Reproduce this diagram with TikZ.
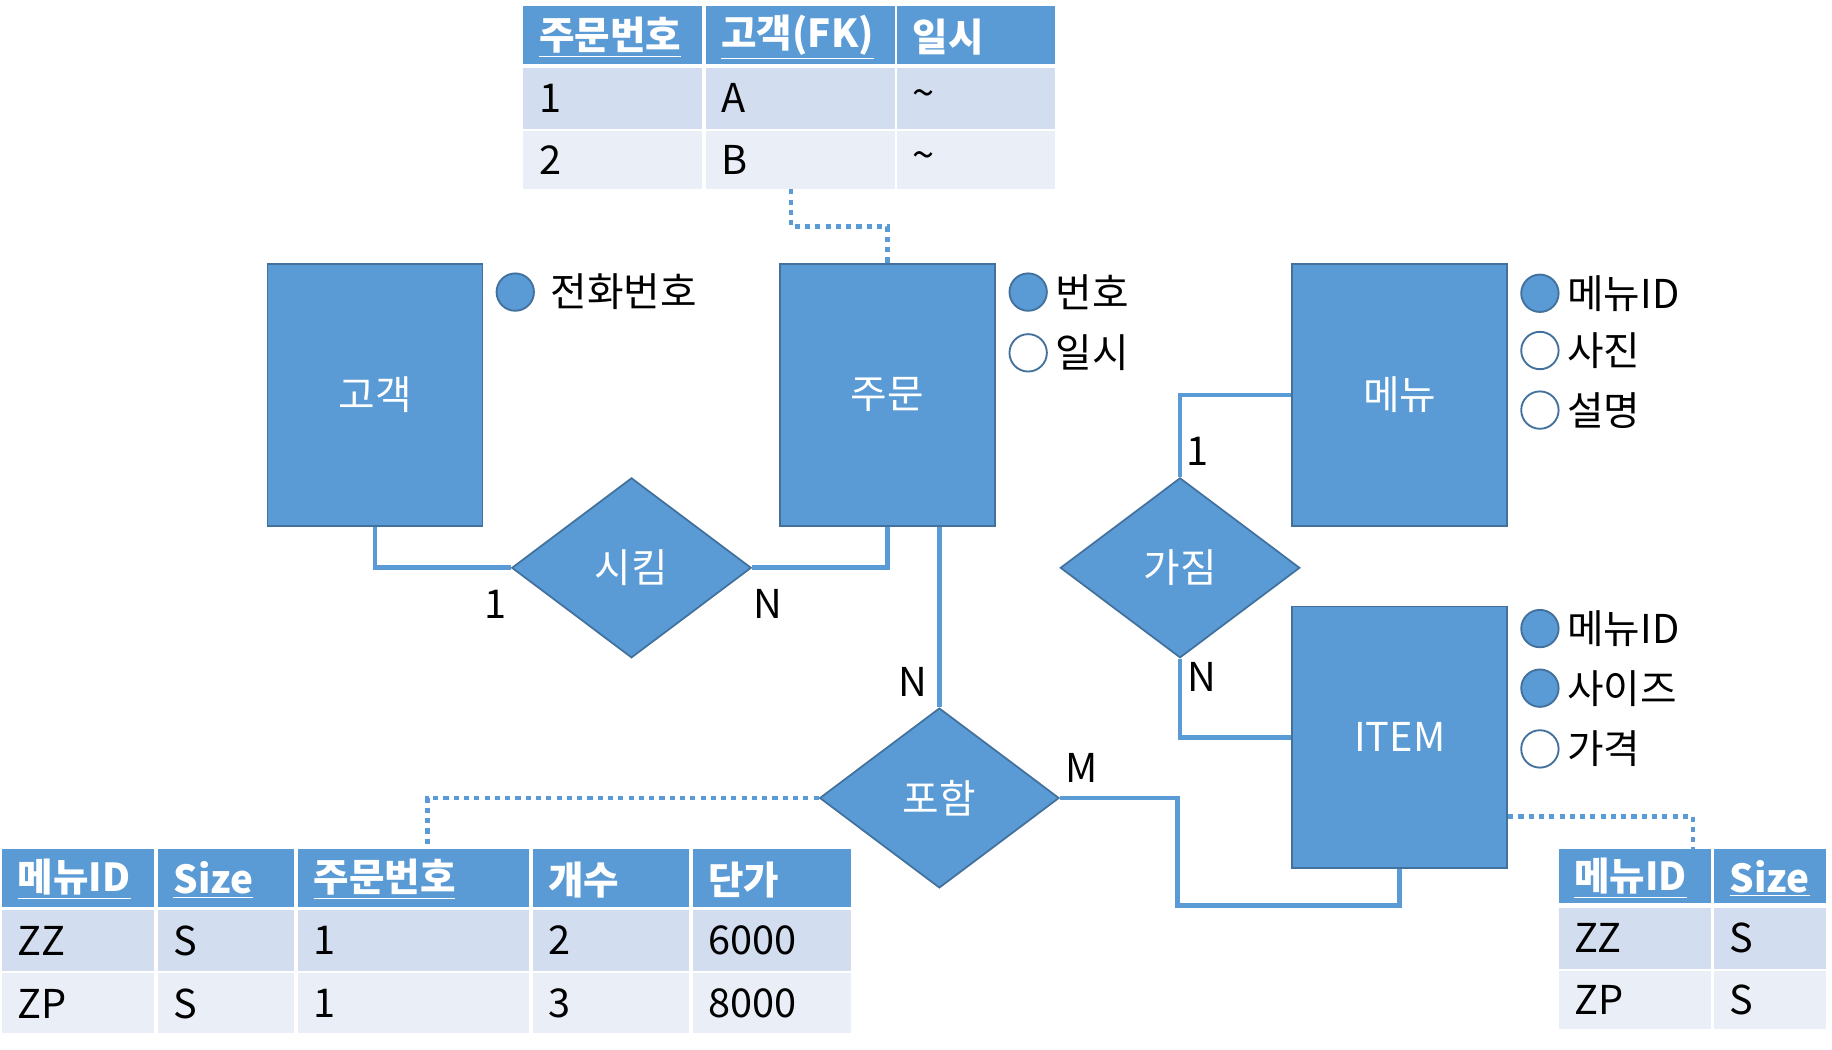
\documentclass[tikz,border=0pt]{standalone}
\usepackage{fontspec}
\setmainfont{Noto Sans CJK KR}
\usetikzlibrary{shapes.geometric,positioning}

\definecolor{erfill}{HTML}{5B9BD5}
\definecolor{erline}{HTML}{41719C}
\definecolor{rowA}{HTML}{D2DEEF}
\definecolor{rowB}{HTML}{EAEFF7}
\newcommand{\erfont}{\fontsize{17}{20}\selectfont}
\newcommand{\hdfont}{\fontsize{16.5}{20}\selectfont\bfseries}

\tikzset{
  entity/.style={draw=erline, fill=erfill, line width=0.75pt, minimum width=92pt, minimum height=112pt, inner sep=0pt, text=white, font=\erfont},
  relation/.style={diamond, aspect=1.33, draw=erline, fill=erfill, line width=0.75pt, minimum width=102.5pt, minimum height=77pt, inner sep=0pt, text=white, font=\erfont},
  conn/.style={draw=erfill, line width=2pt},
  fkline/.style={draw=erfill, line width=1.9pt, dash pattern=on 2.2pt off 2.2pt},
  keyattr/.style={circle, draw=erline, fill=erfill, line width=0.8pt, minimum size=16pt, inner sep=0pt},
  plainattr/.style={keyattr, fill=white},
  attrtxt/.style={anchor=west, inner sep=0pt, font=\erfont},
  card/.style={inner sep=0pt, font=\erfont},
  headtxt/.style={anchor=west, inner sep=0pt, text=white, font=\hdfont},
  celltxt/.style={anchor=west, inner sep=0pt, font=\erfont},
}

\begin{document}
\begin{tikzpicture}[x=0.5pt,y=-0.5pt]
\useasboundingbox (0,0) rectangle (1568,898);

% order table (top)
\foreach \a/\b in {448/601,604/766,768/903} {
  \fill[erfill] (\a,5) rectangle (\b,55);
  \fill[rowA] (\a,58) rectangle (\b,110);
  \fill[rowB] (\a,112) rectangle (\b,162);
}
\node[headtxt] (ordh1) at (461,32) {\underline{주문번호}};
\node[headtxt] (ordh2) at (617,32) {\underline{고객(FK)}};
\node[headtxt] (ordh3) at (781,32) {일시};
\node[celltxt] (ord11) at (461,84) {1};
\node[celltxt] (ord12) at (617,84) {A};
\node[celltxt] (ord13) at (781,84) {\textasciitilde};
\node[celltxt] (ord21) at (461,137) {2};
\node[celltxt] (ord22) at (617,137) {B};
\node[celltxt] (ord23) at (781,137) {\textasciitilde};
\coordinate (ordtab) at (677,162);

% order line table (bottom left)
\foreach \a/\b in {2/132,135/252,255/453,456/590,593/728} {
  \fill[erfill] (\a,727) rectangle (\b,776);
  \fill[rowA] (\a,779) rectangle (\b,831);
  \fill[rowB] (\a,833) rectangle (\b,884);
}
\node[headtxt] (lineh1) at (15,753) {\underline{메뉴ID}};
\node[headtxt] (lineh2) at (148,753) {\underline{Size}};
\node[headtxt] (lineh3) at (268,753) {\underline{주문번호}};
\node[headtxt] (lineh4) at (469,753) {개수};
\node[headtxt] (lineh5) at (606,753) {단가};
\node[celltxt] (line11) at (15,805) {ZZ};
\node[celltxt] (line12) at (148,805) {S};
\node[celltxt] (line13) at (268,805) {1};
\node[celltxt] (line14) at (469,805) {2};
\node[celltxt] (line15) at (606,805) {6000};
\node[celltxt] (line21) at (15,859) {ZP};
\node[celltxt] (line22) at (148,859) {S};
\node[celltxt] (line23) at (268,859) {1};
\node[celltxt] (line24) at (469,859) {3};
\node[celltxt] (line25) at (606,859) {8000};
\coordinate (linetab) at (366,727);

% size table (bottom right)
\foreach \a/\b in {1334/1464,1467/1563} {
  \fill[erfill] (\a,727) rectangle (\b,773);
  \fill[rowA] (\a,777) rectangle (\b,829);
  \fill[rowB] (\a,831) rectangle (\b,881);
}
\node[headtxt] (sizeh1) at (1347,752) {\underline{메뉴ID}};
\node[headtxt] (sizeh2) at (1480,752) {\underline{Size}};
\node[celltxt] (size11) at (1347,803) {ZZ};
\node[celltxt] (size12) at (1480,803) {S};
\node[celltxt] (size21) at (1347,856) {ZP};
\node[celltxt] (size22) at (1480,856) {S};
\coordinate (sizetab) at (1449,727);

% entities
\node[entity] (cust) at (321,338) {고객};
\node[entity] (order) at (759.5,338) {주문};
\node[entity] (menu) at (1198,338) {메뉴};
\node[entity] (item) at (1198,631) {ITEM};

% relations
\node[relation] (sikim) at (540.5,486) {시킴};
\node[relation] (gajim) at (1010,486) {가짐};
\node[relation] (poham) at (804,683) {포함};

% connectors
\draw[conn] (cust.south) |- (sikim.west);
\draw[conn] (sikim.east) -| (order.south);
\draw[conn] (poham.north) -- (poham.north |- order.south);
\coordinate (bend) at (1008,775);
\draw[conn] (poham.east) -| (bend) -| (item.south);
\draw[conn] (gajim.north) |- (menu.west);
\draw[conn] (gajim.south) |- (item.west);

% foreign keys
\draw[fkline] (ordtab) -- ++(0,32) -| (order.north);
\draw[fkline] (poham.west) -| (linetab);
\coordinate (itemfk) at ([yshift=22.5pt]item.south east);
\draw[fkline] (itemfk) -| (sizetab);

% cardinality
\node[card] (c1) at (424,517) {1};
\node[card] (c2) at (657,517) {N};
\node[card] (c3) at (781,584) {N};
\node[card] (c4) at (926,657) {M};
\node[card] (c5) at (1025,386) {1};
\node[card] (c6) at (1029,579) {N};

% attributes
\node[keyattr] (telk) at (441,250) {};
\node[attrtxt] (tel) at (471,250) {전화번호};
\node[keyattr] (numk) at (880,250) {};
\node[attrtxt] (num) at (903,250) {번호};
\node[plainattr] (datek) at (880,302) {};
\node[attrtxt] (date) at (903,302) {일시};
\node[keyattr] (midk) at (1318,251) {};
\node[attrtxt] (mid) at (1341,251) {메뉴ID};
\node[plainattr] (photok) at (1318,300) {};
\node[attrtxt] (photo) at (1341,300) {사진};
\node[plainattr] (desck) at (1318,351) {};
\node[attrtxt] (desc) at (1341,351) {설명};
\node[keyattr] (imidk) at (1318,538) {};
\node[attrtxt] (imid) at (1341,538) {메뉴ID};
\node[keyattr] (isizek) at (1318,589) {};
\node[attrtxt] (isize) at (1341,589) {사이즈};
\node[plainattr] (pricek) at (1318,641) {};
\node[attrtxt] (price) at (1341,641) {가격};

\end{tikzpicture}
\end{document}
